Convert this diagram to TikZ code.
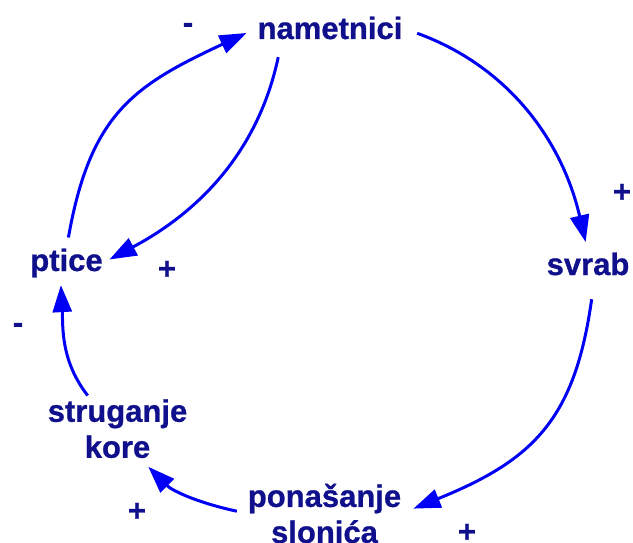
\documentclass[tikz,border=0pt]{standalone}
\usepackage{fontspec}
\setmainfont{Liberation Sans}
\newfontfamily\labelfont{Liberation Sans}[UprightFont={* Bold}, FakeBold=0.8]
\usetikzlibrary{arrows.meta}
\definecolor{node_ink}{RGB}{16,16,140}
\definecolor{loop_blue}{RGB}{0,0,245}
\tikzset{
  var_node/.style={text=node_ink, font=\fontsize{31}{36}\selectfont\labelfont, inner sep=0pt},
  var_pair/.style={var_node, align=center},
  sign_label/.style={text=node_ink, font=\fontsize{31}{36}\selectfont\labelfont, inner sep=0pt},
  link/.style={-{Triangle[length=27pt,width=19pt]}, line width=3pt, draw=loop_blue}
}
\begin{document}
\begin{tikzpicture}[x=1pt,y=1pt]
  \useasboundingbox (0,0) rectangle (633,-543);

  % variables of the loop
  \node[var_node, anchor=base] (nametnici) at (330,-39) {nametnici};
  \node[var_node, anchor=base] (ptice) at (66.5,-271) {ptice};
  \node[var_node, anchor=base] (svrab) at (588,-275) {svrab};
  \node[var_pair] (struganje) at (117.5,-428.7) {struganje\\kore};
  \node[var_pair] (ponasanje) at (324.5,-513.5) {ponašanje\\slonića};

  % polarity signs
  \node[sign_label] (sign_a) at (188,-28) {-};
  \node[sign_label] (sign_b) at (167,-270) {+};
  \node[sign_label] (sign_c) at (622,-193) {+};
  \node[sign_label] (sign_d) at (18,-328) {-};
  \node[sign_label] (sign_e) at (137,-512) {+};
  \node[sign_label] (sign_f) at (467,-533) {+};

  % causal links
  \draw[link, looseness=1.2, shorten <=11pt, shorten >=12pt] (ptice.north) to[out=80, in=205] (nametnici.west);
  \draw[link, shorten <=18pt, shorten >=7.5pt] ([xshift=-48pt]nametnici.south) to[out=258, in=28] (ptice.east);
  \draw[link, shorten <=15.6pt, shorten >=10.5pt] (nametnici.east) to[out=-20, in=103] (svrab.north);
  \draw[link, looseness=1.2, shorten <=24pt, shorten >=13pt] ([xshift=7pt]svrab.south) to[out=262, in=22] (ponasanje.east);
  \draw[link, shorten <=11pt, shorten >=12pt] (ponasanje.west) to[out=168, in=315] (struganje.-53);
  \draw[link, shorten <=4.5pt, shorten >=7.5pt] ([xshift=-27pt]struganje.north) to[out=128, in=273] ([xshift=-6pt]ptice.south);
\end{tikzpicture}
\end{document}
